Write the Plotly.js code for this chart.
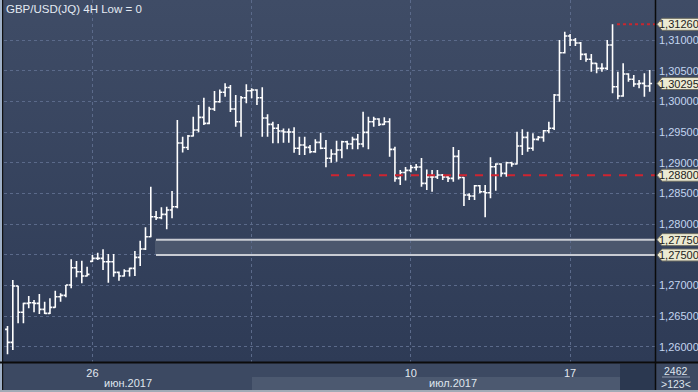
<!DOCTYPE html>
<html>
<head>
<meta charset="utf-8">
<script src="https://cdn.plot.ly/plotly-3.0.1.min.js"></script>
<style>
html,body{margin:0;padding:0;background:#2e3b56;}
#chart{width:698px;height:392px;background:linear-gradient(to bottom,#3f4c66 0px,#2e3b56 362px,#2e3b56 392px);}
</style>
</head>
<body>
<div id="chart"></div>
<script>
// 4H OHLC bars, GBP/USD (index 0 = first visible bar)
const openP = [1.26287,1.26075,1.26993,1.26565,1.26711,1.26721,1.26711,1.26613,1.26548,1.26646,
1.26819,1.26842,1.27010,1.27292,1.27227,1.27156,1.27396,1.27445,1.27445,1.27390,
1.27390,1.27217,1.27156,1.27238,1.27282,1.27461,1.27597,1.27797,1.28123,1.28107,
1.28162,1.28233,1.28286,1.29325,1.29252,1.29439,1.29537,1.29744,1.29646,1.29879,
1.29998,1.30152,1.30230,1.29879,1.29672,1.30064,1.30178,1.30189,1.30064,1.29733,
1.29630,1.29565,1.29521,1.29504,1.29504,1.29239,1.29292,1.29255,1.29183,1.29336,
1.29239,1.29076,1.29146,1.29211,1.29346,1.29309,1.29385,1.29309,1.29499,1.29672,
1.29716,1.29630,1.29672,1.29222,1.28749,1.28844,1.28880,1.28926,1.28934,1.28668,
1.28771,1.28771,1.28803,1.28771,1.28749,1.29108,1.28762,1.28477,1.28461,1.28628,
1.28531,1.28515,1.28939,1.28983,1.28831,1.29004,1.28983,1.29276,1.29418,1.29239,
1.29385,1.29418,1.29526,1.29565,1.30108,1.30797,1.31070,1.31004,1.30955,1.30771,
1.30690,1.30624,1.30543,1.30543,1.30923,1.30243,1.30091,1.30450,1.30364,1.30287,
1.30298,1.30254];
const highP = [1.26341,1.27091,1.26993,1.26721,1.26830,1.26765,1.26863,1.26737,1.26793,1.26917,
1.26874,1.27010,1.27429,1.27401,1.27406,1.27308,1.27499,1.27536,1.27592,1.27515,
1.27515,1.27230,1.27266,1.27290,1.27564,1.27732,1.27950,1.28612,1.28216,1.28277,
1.28286,1.28542,1.29700,1.29428,1.29455,1.29754,1.29945,1.30064,1.29917,1.30173,
1.30197,1.30298,1.30271,1.30108,1.30091,1.30282,1.30217,1.30200,1.30233,1.29793,
1.29672,1.29635,1.29561,1.29561,1.29581,1.29428,1.29428,1.29292,1.29385,1.29493,
1.29374,1.29222,1.29362,1.29362,1.29362,1.29428,1.29472,1.29835,1.29754,1.29754,
1.29728,1.29744,1.29728,1.29265,1.28885,1.28934,1.28966,1.28983,1.29080,1.28893,
1.28885,1.28885,1.28820,1.28803,1.29260,1.29211,1.28770,1.28505,1.28640,1.28640,
1.28640,1.29092,1.28994,1.28994,1.29020,1.29020,1.29509,1.29548,1.29509,1.29483,
1.29439,1.29537,1.29672,1.30124,1.31004,1.31140,1.31102,1.31037,1.30972,1.30788,
1.30776,1.30630,1.30624,1.31004,1.31260,1.30488,1.30624,1.30461,1.30434,1.30352,
1.30461,1.30515];
const lowP = [1.25880,1.25950,1.26385,1.26385,1.26630,1.26565,1.26537,1.26537,1.26537,1.26640,
1.26737,1.26809,1.26956,1.27135,1.27037,1.27148,1.27385,1.27417,1.27254,1.27047,
1.27145,1.27080,1.27150,1.27150,1.27156,1.27319,1.27580,1.27790,1.28069,1.28081,
1.27918,1.28097,1.28260,1.29170,1.29211,1.29430,1.29499,1.29618,1.29630,1.29847,
1.29982,1.30080,1.29830,1.29591,1.29428,1.29972,1.30054,1.29945,1.29428,1.29428,
1.29320,1.29320,1.29330,1.29330,1.29167,1.29129,1.29129,1.29157,1.29167,1.29222,
1.28929,1.29004,1.29020,1.29076,1.29222,1.29222,1.29222,1.29255,1.29222,1.29591,
1.29602,1.29618,1.29102,1.28694,1.28640,1.28714,1.28849,1.28877,1.28612,1.28559,
1.28531,1.28738,1.28722,1.28689,1.28694,1.28730,1.28298,1.28396,1.28396,1.28505,
1.28114,1.28423,1.28547,1.28776,1.28776,1.28939,1.28975,1.29129,1.29183,1.29199,
1.29366,1.29346,1.29483,1.29537,1.29998,1.30784,1.30907,1.30907,1.30678,1.30651,
1.30488,1.30461,1.30488,1.30515,1.30135,1.30038,1.30080,1.30324,1.30243,1.30217,
1.30080,1.30161];
const closeP = [1.26075,1.26993,1.26565,1.26711,1.26721,1.26711,1.26613,1.26548,1.26646,1.26819,
1.26842,1.27010,1.27292,1.27227,1.27156,1.27184,1.27445,1.27445,1.27390,1.27390,
1.27217,1.27156,1.27238,1.27282,1.27461,1.27597,1.27797,1.28123,1.28107,1.28162,
1.28233,1.28286,1.29325,1.29252,1.29439,1.29537,1.29744,1.29646,1.29879,1.29998,
1.30152,1.30230,1.29879,1.29672,1.30064,1.30178,1.30189,1.30064,1.29733,1.29630,
1.29565,1.29521,1.29504,1.29504,1.29239,1.29292,1.29255,1.29183,1.29336,1.29239,
1.29076,1.29146,1.29211,1.29346,1.29309,1.29385,1.29309,1.29499,1.29672,1.29716,
1.29630,1.29672,1.29222,1.28749,1.28844,1.28880,1.28926,1.28934,1.28668,1.28771,
1.28771,1.28803,1.28771,1.28749,1.29108,1.28762,1.28477,1.28461,1.28628,1.28531,
1.28515,1.28939,1.28983,1.28831,1.29004,1.28983,1.29276,1.29418,1.29239,1.29385,
1.29418,1.29526,1.29565,1.30108,1.30797,1.31070,1.31004,1.30955,1.30771,1.30690,
1.30624,1.30543,1.30543,1.30923,1.30243,1.30091,1.30450,1.30364,1.30287,1.30298,
1.30254,1.30295];

// x-axis week ticks (bar index of Monday open) and their labels
const weekTickIdx = [16, 46, 76, 106];
const weekTickText = ['26', '', '10', '17'];
// month labels and their centre (bar index)
const monthLabels = ['июн.2017', 'июл.2017'];
const monthCentres = [22.7, 84];
// y-axis ticks
const yTicks = [1.26, 1.265, 1.27, 1.275, 1.28, 1.285, 1.29, 1.295, 1.30, 1.305, 1.31];
// marked levels
const levelHigh = 1.3126;
const levelLast = 1.30295;
const levelRed = 1.2880;
const zoneTop = 1.2775;
const zoneBottom = 1.2750;
const barCountText = '2462';
const visibleText = '>123<';
const chartTitle = 'GBP/USD(JQ) 4H Low = 0';

const xs = openP.map((_, i) => i);
const FONT = 'Liberation Sans Narrow, Liberation Sans, Arial, sans-serif';
const W = 698, H = 392, ML = 4, MR = 43, MB = 30;
const PW = W - ML - MR, PH = H - MB;
const px = v => (v - ML) / PW;       // pixel x -> paper x
const py = v => (PH - v) / PH;       // pixel y -> paper y

const trace = {
  type: 'ohlc', x: xs, open: openP, high: highP, low: lowP, close: closeP,
  increasing: {line: {color: '#ffffff', width: 1.6}},
  decreasing: {line: {color: '#ffffff', width: 1.6}},
  tickwidth: 0.45, hoverinfo: 'skip', showlegend: false
};

function tag(val) {
  return {type: 'path', xref: 'paper', yref: 'y', xsizemode: 'pixel', ysizemode: 'pixel',
    xanchor: 1, yanchor: val, path: 'M 2,0 L 7,6 L 44,6 L 44,-6 L 7,-6 Z',
    fillcolor: '#ecead2', line: {color: '#6d6d62', width: 1}, layer: 'above'};
}
function tagText(val, txt) {
  return {xref: 'paper', yref: 'y', x: px(679), y: val, text: txt, showarrow: false,
    xanchor: 'center', yanchor: 'middle', font: {family: FONT, size: 11, color: '#1c1c1c'}};
}
const fmt = v => v.toFixed(5).replace('.', ',');

const shapes = [
  // bottom panel
  {type: 'rect', xref: 'paper', yref: 'paper', x0: px(0), x1: px(698), y0: py(392), y1: py(362), fillcolor: '#3c4962', line: {width: 0}, layer: 'below'},
  {type: 'rect', xref: 'paper', yref: 'paper', x0: px(252), x1: px(620), y0: py(390), y1: py(377), fillcolor: '#4c5970', line: {width: 0}, layer: 'below'},
  {type: 'rect', xref: 'paper', yref: 'paper', x0: px(620), x1: px(655), y0: py(390), y1: py(364), fillcolor: '#2b3850', line: {width: 0}, layer: 'below'},
  {type: 'rect', xref: 'paper', yref: 'paper', x0: px(0), x1: px(698), y0: py(392), y1: py(390), fillcolor: '#a2aab6', line: {width: 0}, layer: 'above'},
  {type: 'line', xref: 'paper', yref: 'paper', x0: px(662), x1: px(690), y0: py(377), y1: py(377), line: {color: '#8c98ab', width: 1}, layer: 'above'},
  // left edge
  {type: 'rect', xref: 'paper', yref: 'paper', x0: px(0), x1: px(2), y0: py(390), y1: py(0), fillcolor: '#9fb0c7', line: {width: 0}, layer: 'above'},
  {type: 'rect', xref: 'paper', yref: 'paper', x0: px(2), x1: px(3.2), y0: py(390), y1: py(0), fillcolor: '#101010', line: {width: 0}, layer: 'above'},
  // zone band
  {type: 'rect', xref: 'paper', yref: 'y', x0: px(155), x1: 1, y0: zoneBottom, y1: zoneTop, fillcolor: '#4b576d', line: {width: 0}, layer: 'below'},
  {type: 'line', xref: 'paper', yref: 'y', x0: px(156), x1: 1, y0: zoneTop, y1: zoneTop, line: {color: '#c9ccd3', width: 2}, layer: 'above'},
  {type: 'line', xref: 'paper', yref: 'y', x0: px(156), x1: 1, y0: zoneBottom, y1: zoneBottom, line: {color: '#c9ccd3', width: 2}, layer: 'above'},
  // red levels
  {type: 'line', xref: 'paper', yref: 'y', x0: px(331), x1: 1, y0: levelRed, y1: levelRed, line: {color: '#cf2430', width: 2, dash: '8px,8px'}, layer: 'above'},
  {type: 'line', xref: 'paper', yref: 'y', x0: px(617), x1: 1, y0: levelHigh, y1: levelHigh, line: {color: '#c8272f', width: 2, dash: 'dot'}, layer: 'above'},
  // black frame lines
  {type: 'line', xref: 'paper', yref: 'paper', x0: px(0), x1: px(698), y0: py(362.5), y1: py(362.5), line: {color: '#0b0b0b', width: 2}, layer: 'above'},
  {type: 'line', xref: 'paper', yref: 'paper', x0: px(655.5), x1: px(655.5), y0: py(390), y1: py(0), line: {color: '#0b0b0b', width: 1.5}, layer: 'above'},
  tag(levelHigh), tag(levelLast), tag(levelRed), tag(zoneTop), tag(zoneBottom)
];

const annotations = [
  {xref: 'paper', yref: 'paper', x: px(4), y: py(8.5), xanchor: 'left', yanchor: 'middle', text: chartTitle, showarrow: false,
   font: {family: FONT, size: 11.5, color: '#e4eaf3'}},
  {xref: 'x', yref: 'paper', x: monthCentres[0], y: py(383), text: monthLabels[0], showarrow: false, xanchor: 'center', yanchor: 'middle',
   font: {family: FONT, size: 11, color: '#dfe5ee'}},
  {xref: 'x', yref: 'paper', x: monthCentres[1], y: py(383), text: monthLabels[1], showarrow: false, xanchor: 'center', yanchor: 'middle',
   font: {family: FONT, size: 11, color: '#dfe5ee'}},
  {xref: 'paper', yref: 'paper', x: px(676), y: py(370.5), text: barCountText, showarrow: false, xanchor: 'center', yanchor: 'middle',
   font: {family: FONT, size: 10.5, color: '#dfe5ee'}},
  {xref: 'paper', yref: 'paper', x: px(676), y: py(383.5), text: visibleText, showarrow: false, xanchor: 'center', yanchor: 'middle',
   font: {family: FONT, size: 10.5, color: '#dfe5ee'}},
  tagText(levelHigh, fmt(levelHigh)), tagText(levelLast, fmt(levelLast)), tagText(levelRed, fmt(levelRed)),
  tagText(zoneTop, fmt(zoneTop)), tagText(zoneBottom, fmt(zoneBottom))
];

const layout = {
  width: W, height: H,
  margin: {l: ML, r: MR, t: 0, b: MB, pad: 0},
  paper_bgcolor: 'rgba(0,0,0,0)', plot_bgcolor: 'rgba(0,0,0,0)',
  separators: ', ',
  showlegend: false,
  xaxis: {
    range: [-0.66, 122.0], fixedrange: true, rangeslider: {visible: false},
    tickmode: 'array', tickvals: weekTickIdx, ticktext: weekTickText,
    showgrid: true, gridcolor: '#5b6a8a', gridwidth: 1, griddash: 'dot',
    zeroline: false, showline: false, ticks: '', ticklabelstandoff: 3,
    tickfont: {family: FONT, size: 11, color: '#e2e8f0'}
  },
  yaxis: {
    range: [1.25755, 1.31657], fixedrange: true, side: 'right',
    tickmode: 'array', tickvals: yTicks, tickformat: '.5f',
    showgrid: true, gridcolor: '#5b6a8a', gridwidth: 1, griddash: 'dot',
    zeroline: false, showline: false, ticks: '', ticklabelstandoff: 3,
    tickfont: {family: FONT, size: 11, color: '#c3d5f0'}
  },
  shapes: shapes,
  annotations: annotations
};

Plotly.newPlot('chart', [trace], layout, {staticPlot: true, displayModeBar: false});
</script>
</body>
</html>
